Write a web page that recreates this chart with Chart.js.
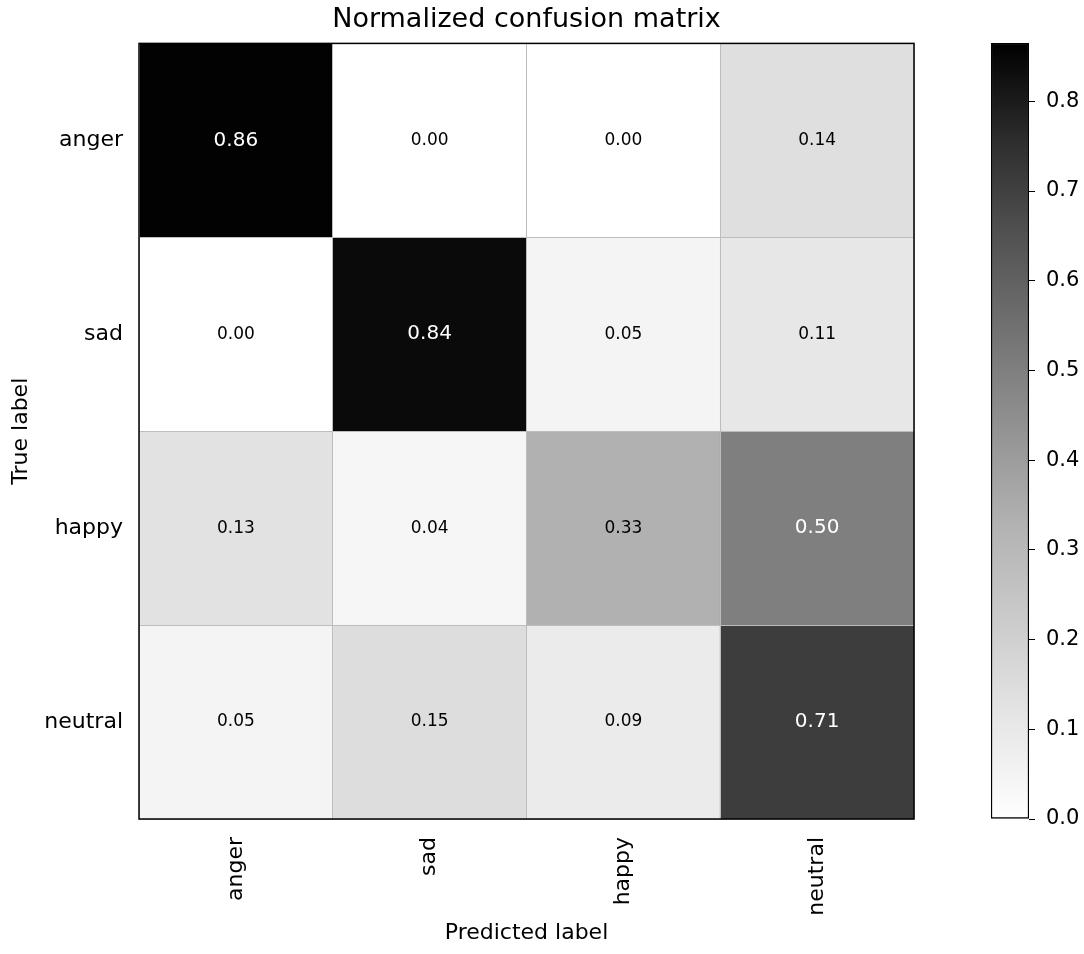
<!DOCTYPE html>
<html>
<head>
<meta charset="utf-8">
<script src="https://cdn.jsdelivr.net/npm/chart.js@4.4.1/dist/chart.umd.min.js"></script>
<style>
  html, body { margin: 0; padding: 0; background: #fff; overflow: hidden; }
  #wrap { position: relative; width: 1084px; height: 954px; }
  #main { position: absolute; left: 0; top: 0; width: 1053px; height: 954px; }
  #cbar { position: absolute; left: 950px; top: 0; width: 134px; height: 954px; }
</style>
</head>
<body>
<div id="wrap">
  <div id="main"><canvas id="matrix"></canvas></div>
  <div id="cbar"><canvas id="colorbar"></canvas></div>
</div>
<script>
// labels
const classes = ['anger', 'sad', 'happy', 'neutral'];

// normalized values, one array per true label
const rowAnger = [0.86, 0.00, 0.00, 0.14];
const rowSad = [0.00, 0.84, 0.05, 0.11];
const rowHappy = [0.13, 0.04, 0.33, 0.50];
const rowNeutral = [0.05, 0.15, 0.09, 0.71];
const rows = [rowAnger, rowSad, rowHappy, rowNeutral];

// colorbar range and ticks
const vmax = 0.865;
const cbTicks = [0.0, 0.1, 0.2, 0.3, 0.4, 0.5, 0.6, 0.7, 0.8];

// grey ramp (white -> black), evenly spaced stops
const greys = [255, 231, 204, 179, 147, 115, 82, 45, 0];
function grey(t) {
  t = Math.max(0, Math.min(1, t));
  const p = t * (greys.length - 1);
  const i = Math.min(Math.floor(p), greys.length - 2);
  const g = Math.round(greys[i] + (greys[i + 1] - greys[i]) * (p - i));
  return 'rgb(' + g + ',' + g + ',' + g + ')';
}

Chart.defaults.font.family = "'DejaVu Sans', sans-serif";
Chart.defaults.color = '#000';

const datasets = rows.map((row, r) => ({
  data: classes.map(() => [r, r + 1]),
  values: row,
  backgroundColor: row.map(v => grey(v / vmax)),
  borderWidth: 0,
  grouped: false,
  barPercentage: 1,
  categoryPercentage: 1
}));

const cellText = {
  id: 'cellText',
  afterDatasetsDraw(chart) {
    const ctx = chart.ctx;
    ctx.save();
    ctx.textAlign = 'center';
    ctx.textBaseline = 'middle';
    chart.data.datasets.forEach((ds, r) => {
      chart.getDatasetMeta(r).data.forEach((bar, c) => {
        const v = ds.values[c];
        const light = v > vmax / 2;
        ctx.fillStyle = light ? '#fff' : '#000';
        ctx.font = (light ? '20px' : '17px') + " 'DejaVu Sans', sans-serif";
        ctx.fillText(v.toFixed(2), bar.x, (bar.y + bar.base) / 2);
      });
    });
    ctx.restore();
  }
};

const frame = {
  id: 'frame',
  afterDraw(chart) {
    const a = chart.chartArea;
    const ctx = chart.ctx;
    ctx.save();
    ctx.strokeStyle = '#000';
    ctx.lineWidth = 1.5;
    ctx.strokeRect(a.left, a.top, a.right - a.left, a.bottom - a.top);
    ctx.restore();
  }
};

new Chart(document.getElementById('matrix'), {
  type: 'bar',
  data: { labels: classes, datasets: datasets },
  options: {
    responsive: true,
    maintainAspectRatio: false,
    animation: false,
    layout: { padding: 0 },
    plugins: {
      legend: { display: false },
      tooltip: { enabled: false },
      title: {
        display: true,
        text: 'Normalized confusion matrix',
        color: '#000',
        font: { size: 27, weight: 'normal' },
        padding: { top: 4, bottom: 7 }
      }
    },
    scales: {
      x: {
        type: 'category',
        offset: true,
        afterFit(scale) { scale.height = 135; },
        grid: { offset: true, color: '#bdbdbd', lineWidth: 1, drawTicks: false, z: 1 },
        border: { display: false },
        ticks: { minRotation: 90, maxRotation: 90, padding: 18, font: { size: 22 }, color: '#000' },
        title: { display: true, text: 'Predicted label', font: { size: 22 }, color: '#000', padding: { top: 0, bottom: 8 } }
      },
      y: {
        type: 'linear',
        min: 0,
        max: 4,
        reverse: true,
        afterFit(scale) { scale.width = 139; },
        grid: {
          color: c => Number.isInteger(c.tick.value) ? '#bdbdbd' : 'rgba(0,0,0,0)',
          lineWidth: 1,
          drawTicks: false,
          z: 1
        },
        border: { display: false },
        ticks: {
          stepSize: 0.5,
          autoSkip: false,
          padding: 16,
          font: { size: 22 },
          color: '#000',
          callback: v => Number.isInteger(v) ? '' : classes[Math.floor(v)]
        },
        title: { display: true, text: 'True label', font: { size: 22 }, color: '#000', padding: { top: 8, bottom: 0 } }
      },
      // empty right-hand space so the title centres over the matrix
      yR: {
        type: 'linear',
        position: 'right',
        afterFit(scale) { scale.width = 139; },
        grid: { display: false },
        border: { display: false },
        ticks: { display: false }
      }
    }
  },
  plugins: [cellText, frame]
});

// colorbar
new Chart(document.getElementById('colorbar'), {
  type: 'bar',
  data: {
    labels: [''],
    datasets: [{
      data: [[0, vmax]],
      backgroundColor(c) {
        const a = c.chart.chartArea;
        if (!a) return '#888';
        const g = c.chart.ctx.createLinearGradient(0, a.bottom, 0, a.top);
        greys.forEach((v, i) => g.addColorStop(i / (greys.length - 1), 'rgb(' + v + ',' + v + ',' + v + ')'));
        return g;
      },
      borderColor: '#000',
      borderWidth: 1.5,
      borderSkipped: false,
      barPercentage: 1,
      categoryPercentage: 1
    }]
  },
  options: {
    responsive: true,
    maintainAspectRatio: false,
    animation: false,
    layout: { padding: { left: 41, right: 0, top: 43, bottom: 135 } },
    plugins: { legend: { display: false }, tooltip: { enabled: false } },
    scales: {
      x: { display: false },
      y: {
        position: 'right',
        min: 0,
        max: vmax,
        afterFit(scale) { scale.width = 55; },
        afterBuildTicks(scale) { scale.ticks = cbTicks.map(v => ({ value: v })); },
        grid: { drawOnChartArea: false, drawTicks: true, tickLength: 6, color: '#000', lineWidth: 1 },
        border: { display: false },
        ticks: { padding: 11, font: { size: 21 }, color: '#000', callback: v => Number(v).toFixed(1) }
      }
    }
  }
});
</script>
</body>
</html>
